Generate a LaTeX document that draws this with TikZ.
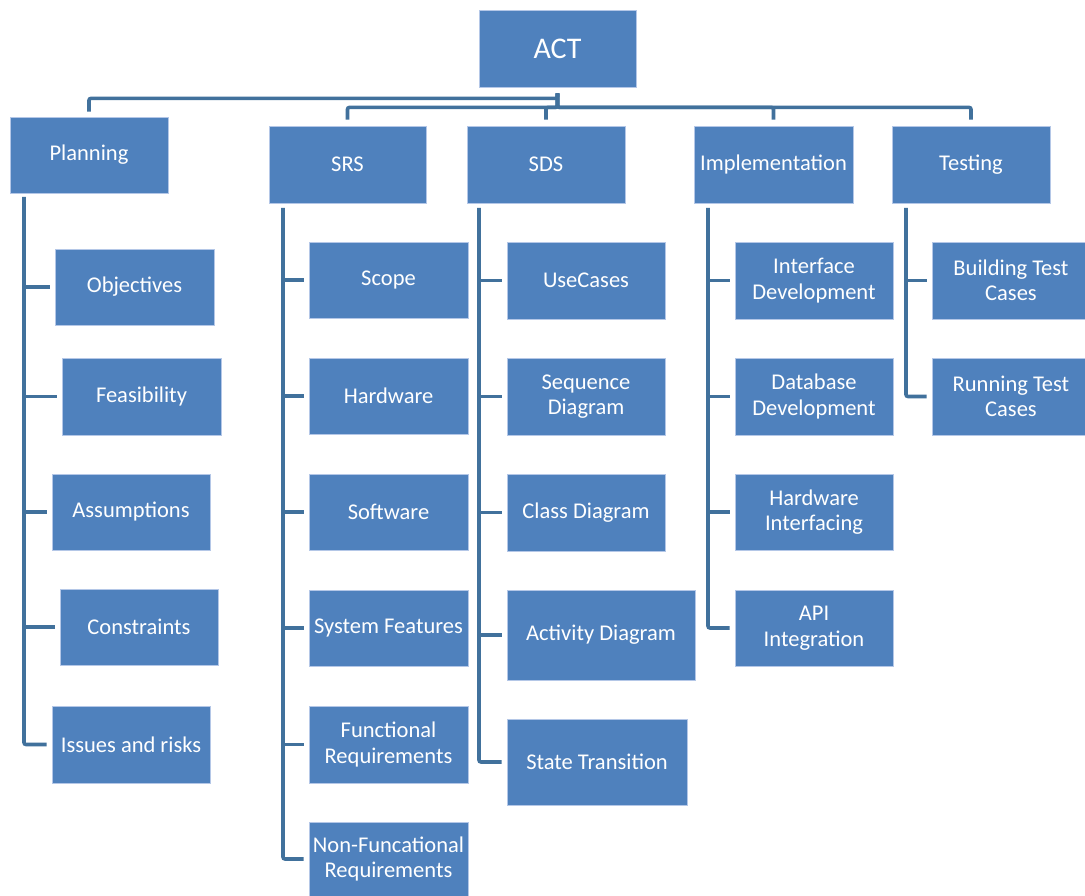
\documentclass[tikz,border=0pt]{standalone}
\usepackage{fontspec}
\setmainfont{Carlito}
\definecolor{boxfill}{HTML}{4F81BD}
\definecolor{boxline}{HTML}{B4C7E7}
\definecolor{wirecol}{HTML}{41719C}
\tikzset{
  box/.style={draw=boxline, line width=0.8pt, fill=boxfill, text=white,
    font=\fontsize{22.5}{25.5}\selectfont, align=center, inner sep=0pt},
  wire/.style={draw=wirecol, line width=3.6pt, rounded corners=2pt},
}
% \wbsbox{name}{cx}{cy}{width}{height}{text}
\newcommand\wbsbox[6]{\node[box, minimum width=#4pt, minimum height=#5pt] (#1) at (#2,#3) {#6};}
\begin{document}
\begin{tikzpicture}[x=1pt, y=-1pt]
\clip (0,0) rectangle (1085,896);
\fill[white] (0,0) rectangle (1085,896);

% root and phases
\node[box, minimum width=157pt, minimum height=77pt, font=\fontsize{30}{34}\selectfont] (act) at (557.5,48.5) {ACT};
\wbsbox{plan}{89}{155}{158}{76}{Planning}
\wbsbox{srs}{347.5}{164.5}{157}{77}{SRS}
\wbsbox{sds}{546}{164.5}{158}{77}{SDS}
\wbsbox{impl}{773.5}{164.5}{159}{77}{Implementation}
\wbsbox{test}{971}{164.5}{158}{77}{Testing}

% planning
\wbsbox{obj}{134.5}{287}{159}{76}{Objectives}
\wbsbox{fea}{141.5}{396.5}{159}{77}{Feasibility}
\wbsbox{ass}{131}{512}{158}{76}{Assumptions}
\wbsbox{con}{139}{627}{158}{76}{Constraints}
\wbsbox{iss}{131}{744.5}{158}{77}{Issues and risks}

% SRS
\wbsbox{scope}{388.5}{280}{159}{76}{Scope}
\wbsbox{hw}{388.5}{396}{159}{76}{Hardware}
\wbsbox{sw}{388.5}{512}{159}{76}{Software}
\wbsbox{sysf}{388.5}{628}{159}{76}{System Features}
\wbsbox{func}{388.5}{744.5}{159}{77}{Functional\\Requirements}
\wbsbox{nfunc}{388.5}{859}{159}{74}{Non-Funcational\\Requirements}

% SDS
\wbsbox{uc}{586}{280.5}{158}{77}{UseCases}
\wbsbox{seq}{586}{396.5}{158}{77}{Sequence\\Diagram}
\wbsbox{cls}{586}{512.5}{158}{77}{Class Diagram}
\wbsbox{actv}{601}{635}{188}{90}{Activity Diagram}
\wbsbox{st}{597}{762}{180}{86}{State Transition}

% implementation
\wbsbox{ifd}{814}{280.5}{158}{77}{Interface\\Development}
\wbsbox{dbd}{814}{396.5}{158}{77}{Database\\Development}
\wbsbox{hwi}{814}{512}{158}{76}{Hardware\\Interfacing}
\wbsbox{api}{814}{628}{158}{76}{API\\Integration}

% testing
\wbsbox{btc}{1011}{280.5}{158}{77}{Building Test\\Cases}
\wbsbox{rtc}{1011}{396.5}{158}{77}{Running Test\\Cases}

% root to phases
\coordinate (actout) at ([yshift=-6pt]act.south);
\draw[wire] (actout) -- ++(0,5) -| ([yshift=5pt]plan.north);
\foreach \n in {srs,sds,impl,test}
  \draw[wire] (actout) -- ++(0,14) -| ([yshift=6pt]\n.north);

% phase trunks and branches
\coordinate (planT) at (24,197);
\coordinate (srsT) at (283,208);
\coordinate (sdsT) at (479,208);
\coordinate (implT) at (708,208);
\coordinate (testT) at (906,208);

\draw[wire] (planT) |- ([xshift=-5pt]iss.west);
\foreach \n in {obj,fea,ass,con}
  \draw[wire] (planT |- \n.west) -- ([xshift=-5pt]\n.west);

\draw[wire] (srsT) |- ([xshift=-5pt]nfunc.west);
\foreach \n in {scope,hw,sw,sysf,func}
  \draw[wire] (srsT |- \n.west) -- ([xshift=-5pt]\n.west);

\draw[wire] (sdsT) |- ([xshift=-5pt]st.west);
\foreach \n in {uc,seq,cls,actv}
  \draw[wire] (sdsT |- \n.west) -- ([xshift=-5pt]\n.west);

\draw[wire] (implT) |- ([xshift=-5pt]api.west);
\foreach \n in {ifd,dbd,hwi}
  \draw[wire] (implT |- \n.west) -- ([xshift=-5pt]\n.west);

\draw[wire] (testT) |- ([xshift=-5pt]rtc.west);
\draw[wire] (testT |- btc.west) -- ([xshift=-5pt]btc.west);
\end{tikzpicture}
\end{document}
